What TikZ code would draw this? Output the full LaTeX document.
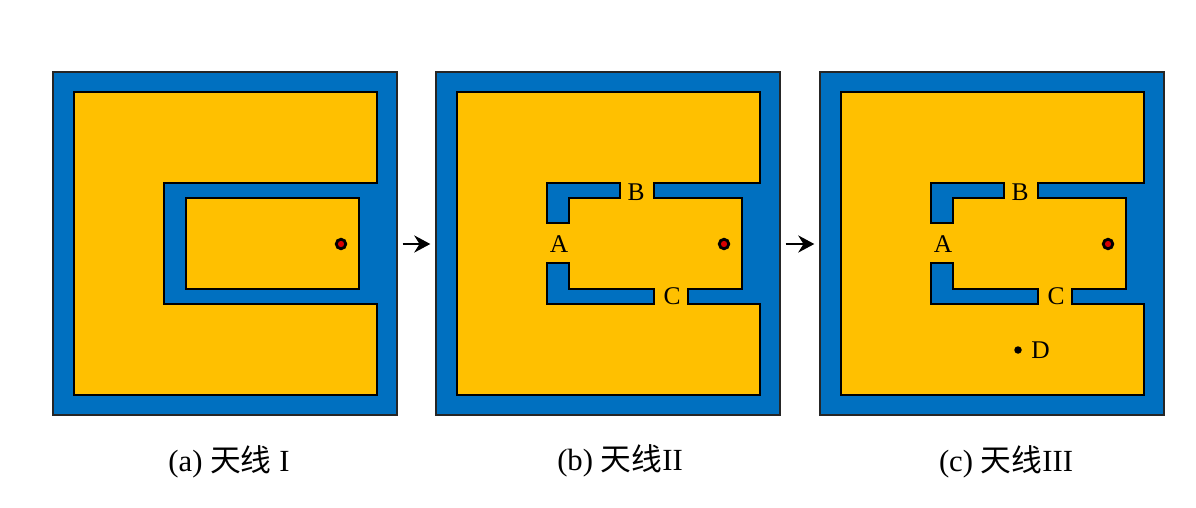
\documentclass[tikz,border=0pt]{standalone}
\usepackage{fontspec}
\setmainfont{Liberation Serif}
\newfontfamily\cjk{Noto Sans CJK SC}
\usepackage{xcolor}
\usetikzlibrary{arrows.meta, positioning}
\definecolor{substblue}{HTML}{0070C0}
\definecolor{patchyellow}{HTML}{FFC000}

\begin{document}
\begin{tikzpicture}[
  x=0.02cm, y=-0.02cm,
  substrate/.style={rectangle, draw=black!85, fill=substblue, line width=1.4pt,
                    minimum width=6.88cm, minimum height=6.86cm, inner sep=0pt},
  patch/.style={draw=black, fill=patchyellow, line width=1.6pt},
  slotcut/.style={draw=black, fill=substblue, line width=1.6pt},
  feed/.style={circle, draw=black, fill=red!85!black, line width=1.6pt, minimum size=0.19cm, inner sep=0pt},
  short/.style={circle, fill=black, minimum size=0.15cm, inner sep=0pt},
  letter/.style={font=\fontsize{14.5}{17}\selectfont, inner sep=0pt},
  caption/.style={font=\fontsize{17.5}{21}\selectfont, inner sep=0pt},
  arr/.style={-{Stealth[length=0.32cm, width=0.34cm]}, line width=1.7pt, shorten <=0.09cm, shorten >=0.09cm}
]
\useasboundingbox (0,0) rectangle (1196,507);
%% Antenna I
\node[substrate] (suba) at (225,243.5) {};
\draw[patch] (74,92) -- (377,92) -- (377,183) -- (164,183) -- (164,304) -- (377,304)
  -- (377,395) -- (74,395) -- cycle;
\draw[patch] (186,198) rectangle (359,289);
\node[feed] (feeda) at (341,244) {};
\node[caption] (capa) at (229,462) {(a) {\cjk 天线} I};
%% Antenna II and III
\foreach \nm/\dx in {b/383, c/767} {
  \begin{scope}[shift={(\dx,0)}]
    \node[substrate] (sub\nm) at (225,243.5) {};
    \draw[patch] (74,92) -- (377,92) -- (377,183) -- (271,183) -- (271,198) -- (359,198)
      -- (359,289) -- (305,289) -- (305,304) -- (377,304) -- (377,395) -- (74,395) -- cycle;
    \draw[slotcut] (164,183) -- (237,183) -- (237,198) -- (186,198) -- (186,223) -- (164,223) -- cycle;
    \draw[slotcut] (164,263) -- (186,263) -- (186,289) -- (271,289) -- (271,304) -- (164,304) -- cycle;
    \node[feed] (feed\nm) at (341,244) {};
    \node[letter] (A\nm) at (176,244) {A};
    \node[letter] (B\nm) at (253,192) {B};
    \node[letter] (C\nm) at (289,296) {C};
  \end{scope}
}
\node[short] (shortd) at (1018,350) {};
\node[letter, right=0.18cm of shortd] (D) {D};
\node[caption] (capb) at (620,461) {(b) {\cjk 天线}II};
\node[caption] (capc) at (1006,462) {(c) {\cjk 天线}III};
%% Arrows between antennas
\draw[arr] (suba.east |- feeda) -- (subb.west |- feeda);
\draw[arr] (subb.east |- feedb) -- (subc.west |- feedb);
\end{tikzpicture}
\end{document}
